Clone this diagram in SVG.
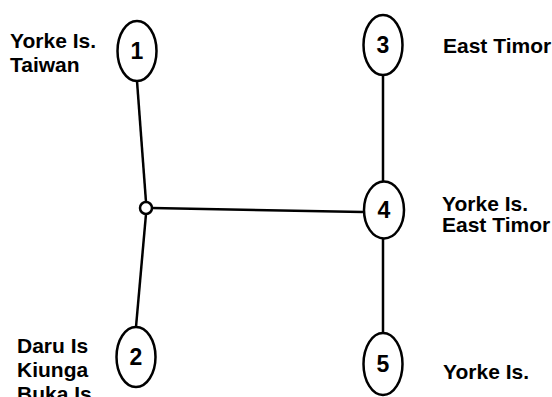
<svg xmlns="http://www.w3.org/2000/svg" width="552" height="397" viewBox="0 0 552 397">
<style>
.node{fill:#fff;stroke:#000;stroke-width:2.5}
.num{font-family:"Liberation Sans",Arial,sans-serif;font-weight:bold;font-size:23px;text-anchor:middle}
.lbl{font-family:"Liberation Sans",Arial,sans-serif;font-weight:bold;font-size:21px}
.edge{stroke:#000;stroke-width:2.5;fill:none}
</style>
<rect width="552" height="397" fill="#fff"/>
<g id="connectors">
<line class="edge" x1="137" y1="81" x2="146" y2="202"/>
<line class="edge" x1="146" y1="214" x2="136" y2="327"/>
<line class="edge" x1="152" y1="208" x2="363" y2="212"/>
<line class="edge" x1="383" y1="75" x2="383" y2="182"/>
<line class="edge" x1="383" y1="239" x2="383" y2="333"/>
</g>
<g id="junction"><circle class="node" cx="146" cy="208" r="6"/></g>
<g id="node1"><ellipse class="node" cx="137" cy="51" rx="19.5" ry="30"/><text class="num" x="137" y="59">1</text></g>
<g id="node2"><ellipse class="node" cx="136" cy="357" rx="19.5" ry="30"/><text class="num" x="136" y="365">2</text></g>
<g id="node3"><ellipse class="node" cx="383" cy="45" rx="19.5" ry="30"/><text class="num" x="383" y="53">3</text></g>
<g id="node4"><ellipse class="node" cx="384" cy="210" rx="20" ry="28.5"/><text class="num" x="384" y="218">4</text></g>
<g id="node5"><ellipse class="node" cx="383" cy="364" rx="19.5" ry="31"/><text class="num" x="383" y="372">5</text></g>
<g id="labels">
<text class="lbl" x="10" y="48">Yorke Is.</text>
<text class="lbl" x="10" y="72">Taiwan</text>
<text class="lbl" x="443" y="53">East Timor</text>
<text class="lbl" x="442" y="211">Yorke Is.</text>
<text class="lbl" x="442" y="232">East Timor</text>
<text class="lbl" x="17" y="353">Daru Is</text>
<text class="lbl" x="17" y="377">Kiunga</text>
<text class="lbl" x="17" y="401">Buka Is</text>
<text class="lbl" x="443" y="379">Yorke Is.</text>
</g>
</svg>
